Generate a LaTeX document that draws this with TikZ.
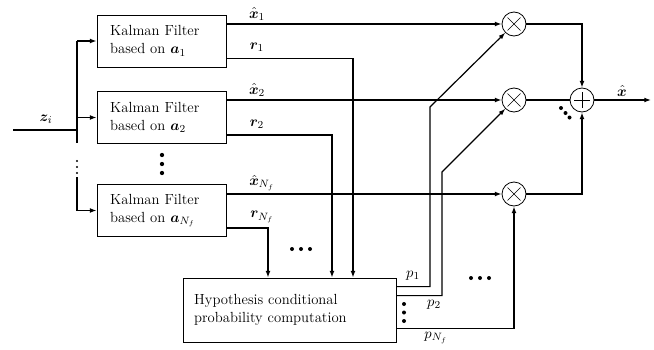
\documentclass[tikz,border=0pt]{standalone}
\usepackage{amsmath,bm}
\usetikzlibrary{arrows.meta,calc}
\begin{document}
\begin{tikzpicture}[x=0.75pt,y=-0.75pt,
  conn/.style={line width=0.9pt},
  arr/.style={conn,-{Latex[length=5pt,width=3.6pt]}},
  kfbox/.style={draw,line width=0.6pt,minimum width=96.75pt,minimum height=39pt,text width=77pt,inner xsep=9.75pt,align=left,font=\fontsize{11}{13.5}\selectfont},
  hcpbox/.style={draw,line width=0.6pt,minimum width=159.75pt,minimum height=48pt,text width=143pt,inner xsep=8.25pt,align=left,font=\fontsize{11}{13}\selectfont},
  opnode/.style={draw,circle,line width=0.6pt,minimum size=18pt,inner sep=0pt},
  lbl/.style={inner sep=0pt,font=\fontsize{11}{13}\selectfont},
  bigdot/.style={fill=black}
]
\useasboundingbox (0,0) rectangle (654,350);
% boxes
\node[kfbox] (kf1) at (161.5,41) {Kalman Filter\\based on $\bm{a}_1$};
\node[kfbox] (kf2) at (161.5,117.5) {Kalman Filter\\based on $\bm{a}_2$};
\node[kfbox] (kf3) at (161.5,210.5) {Kalman Filter\\based on $\bm{a}_{N_f}$};
\node[hcpbox] (hcp) at (289.5,310) {Hypothesis conditional\\probability computation};
% operators
\node[opnode] (m1) at (514,24) {};
\node[opnode] (m2) at (514,100) {};
\node[opnode] (m3) at (514,194) {};
\node[opnode] (s) at (582,100) {};
\foreach \m in {m1,m2,m3}{
  \draw[line width=0.5pt] ($(\m)+(-6.5,-6.5)$) -- ($(\m)+(6.5,6.5)$);
  \draw[line width=0.5pt] ($(\m)+(-6.5,6.5)$) -- ($(\m)+(6.5,-6.5)$);
}
\draw[line width=0.5pt] ($(s)+(-8,0)$) -- ($(s)+(8,0)$);
\draw[line width=0.5pt] ($(s)+(0,-8)$) -- ($(s)+(0,8)$);
% coordinates
\coordinate (zin) at (13,130);
\coordinate (split) at (77,130);
\coordinate (splitlow) at (77,143);
\coordinate (splitb) at (77,177);
\coordinate (p1a) at (430,107);
\coordinate (p2a) at (442,172);
\coordinate (xout) at (651,100);
% input
\draw[conn] (zin) -- (split);
\draw[conn] (split |- kf1.west) -- (splitlow);
\draw[arr] (split |- kf1.west) -- (kf1.west);
\draw[arr] (split |- kf2.west) -- (kf2.west);
\draw[arr] (splitb) |- (kf3.west);
% estimates
\draw[arr] (kf1.east |- m1) -- (m1.west);
\draw[arr] (kf2.east |- m2) -- (m2.west);
\draw[arr] (kf3.east |- m3) -- (m3.west);
% residuals
\draw[arr] ($(kf1.south east)+(0,-9)$) -| ($(hcp.north)+(63.5,0)$);
\draw[arr] ($(kf2.south east)+(0,-9)$) -| ($(hcp.north)+(42.5,0)$);
\draw[arr] ($(kf3.south east)+(0,-9)$) -| ($(hcp.north)+(-21.5,0)$);
% probabilities
\draw[arr] ($(hcp.north east)+(0,9)$) -| (p1a) -- (m1.south west);
\draw[arr] ($(hcp.north east)+(0,18)$) -| (p2a) -- (m2.south west);
\draw[arr] ($(hcp.north east)+(0,51)$) -| (m3.south);
% sum
\draw[arr] (m1.east) -| (s.north);
\draw[arr] (m3.east) -| (s.south);
\draw[conn] (m2.east) -- (s.west);
\draw[arr] (s.east) -- (xout);
% labels
\node[lbl] (lx1) at (257,14) {$\hat{\bm{x}}_1$};
\node[lbl] (lr1) at (257,47) {$\bm{r}_1$};
\node[lbl] (lx2) at (257,90) {$\hat{\bm{x}}_2$};
\node[lbl] (lr2) at (257,124) {$\bm{r}_2$};
\node[lbl] (lx3) at (262,183) {$\hat{\bm{x}}_{N_f}$};
\node[lbl] (lr3) at (262,217) {$\bm{r}_{N_f}$};
\node[lbl] (lz) at (46,119) {$\bm{z}_i$};
\node[lbl] (lx) at (622,91) {$\hat{\bm{x}}$};
\node[lbl] (lp1) at (413,276) {$p_1$};
\node[lbl] (lp2) at (434,305) {$p_2$};
\node[lbl] (lp3) at (436,338) {$p_{N_f}$};
% dots
\foreach \y in {161,167,173} \fill (77,\y) circle (0.9pt);
\foreach \y in {155,164,173} \fill (162,\y) circle (1.6pt);
\foreach \x in {292,301,310} \fill (\x,249) circle (1.5pt);
\foreach \x in {471,480,489} \fill (\x,278) circle (1.5pt);
\foreach \y in {304,312.5,321} \fill (404,\y) circle (1.5pt);
\fill (561,108) circle (1.5pt);
\fill (565.5,113) circle (1.5pt);
\fill (569.5,117.5) circle (1.5pt);
\end{tikzpicture}
\end{document}
